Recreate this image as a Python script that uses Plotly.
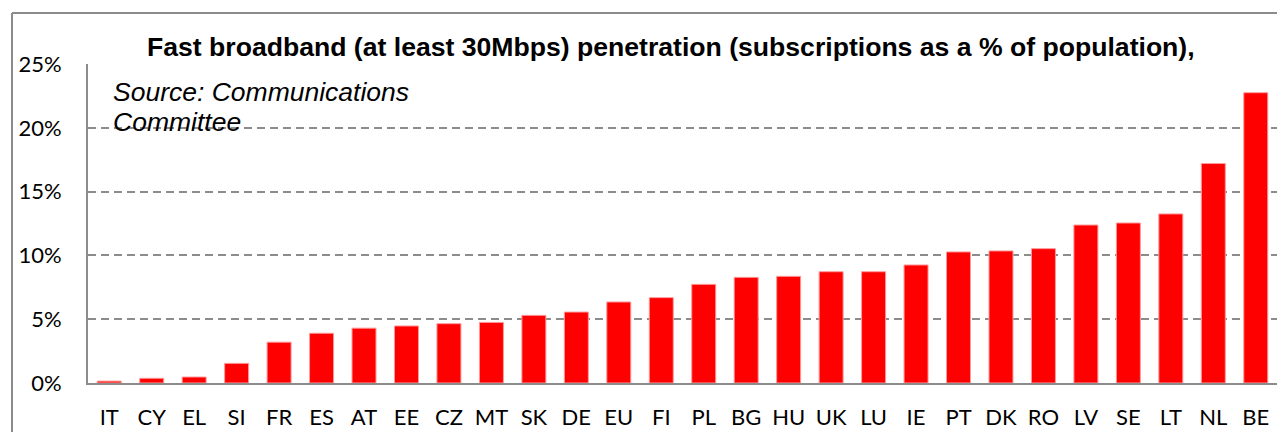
import plotly.graph_objects as go

countries = ["IT", "CY", "EL", "SI", "FR", "ES", "AT", "EE", "CZ", "MT", "SK", "DE", "EU", "FI",
             "PL", "BG", "HU", "UK", "LU", "IE", "PT", "DK", "RO", "LV", "SE", "LT", "NL", "BE"]
penetration = [0.15, 0.37, 0.47, 1.54, 3.2, 3.9, 4.3, 4.47, 4.65, 4.75, 5.3, 5.56, 6.35, 6.69,
               7.73, 8.28, 8.36, 8.72, 8.72, 9.25, 10.27, 10.35, 10.53, 12.38, 12.54, 13.25, 17.2, 22.75]
y_ticks = [0, 5, 10, 15, 20, 25]
y_tick_labels = ["0%", "5%", "10%", "15%", "20%", "25%"]

title_text = "Fast broadband (at least 30Mbps) penetration (subscriptions as a % of population),"
source_lines = ["Source: Communications", "Committee"]

# the page body has an 8px default margin; the figure is sized to fit the window
OFF = 8
W, H = 1285 - OFF, 432 - OFF
L, R, T, B = 88 - OFF, 8, 64 - OFF, 49
pw = W - L - R
ph = H - T - B

def px_x(x):
    # x in window pixels -> paper coordinate
    return (x - OFF - L) / pw

def px_y(y):
    # y in window pixels -> paper coordinate
    return (H - B - (y - OFF)) / ph

fig = go.Figure()
fig.add_trace(go.Bar(
    x=countries, y=penetration,
    marker=dict(color="#ff0000", line=dict(color="#ff9a9a", width=1)),
    width=0.565,
))

fig.update_layout(
    width=W, height=H,
    margin=dict(l=L, r=R, t=T, b=B, autoexpand=False),
    paper_bgcolor="white", plot_bgcolor="white",
    showlegend=False,
    font=dict(family="Lato, sans-serif", color="black"),
    xaxis=dict(
        showgrid=False, showline=True, linecolor="#8c8c8c", linewidth=2,
        ticks="", tickfont=dict(size=22, family="Lato"),
        ticklabelstandoff=14, automargin=False,
    ),
    yaxis=dict(
        range=[0, 25], tickvals=y_ticks, ticktext=y_tick_labels,
        showgrid=True, gridcolor="#8c8c8c", gridwidth=1.5, griddash="8px,5px",
        showline=True, linecolor="#8c8c8c", linewidth=2,
        zeroline=False, ticks="", tickfont=dict(size=22, family="Lato"),
        ticklabelstandoff=20, automargin=False,
    ),
)

# outer chart border (top and left edges visible)
box_x = px_x(12)
box_top = px_y(13)
fig.add_shape(type="line", xref="paper", yref="paper", x0=box_x, x1=box_x, y0=box_top, y1=px_y(440),
              line=dict(color="#8c8c8c", width=2))
fig.add_shape(type="line", xref="paper", yref="paper", x0=box_x, x1=px_x(1300), y0=box_top, y1=box_top,
              line=dict(color="#8c8c8c", width=2))

fig.add_annotation(text="<b>" + title_text + "</b>", xref="paper", yref="paper",
                   x=px_x(671), y=px_y(47), xanchor="center", yanchor="middle", showarrow=False,
                   font=dict(family="Liberation Sans, Arial", size=26.6, color="black"))

for line, ypix in zip(source_lines, [92, 122]):
    fig.add_annotation(text="<i>" + line + "</i>", xref="paper", yref="paper",
                       x=px_x(111), y=px_y(ypix), xanchor="left", yanchor="middle", showarrow=False,
                       font=dict(family="Liberation Sans, Arial", size=26.5, color="black"))

fig.write_html("out.html")
